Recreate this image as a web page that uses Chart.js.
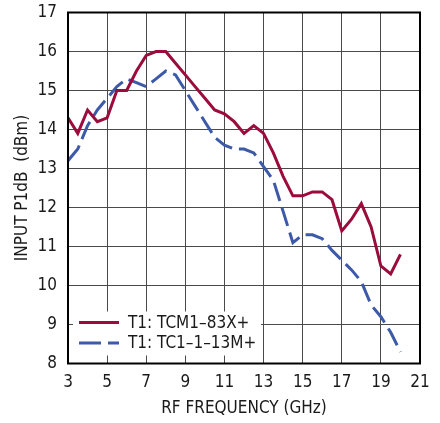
<!DOCTYPE html>
<html>
<head>
<meta charset="utf-8">
<script src="https://cdn.jsdelivr.net/npm/chart.js@4"></script>
<style>
html,body{margin:0;padding:0;background:#fff;}
#wrap{width:440px;height:423px;position:relative;}
</style>
</head>
<body>
<div id="wrap"><canvas id="c" width="440" height="423"></canvas></div>
<script>
const frequencies = [3,3.5,4,4.5,5,5.5,6,6.5,7,7.5,8,8.5,9,9.5,10,10.5,11,11.5,12,12.5,13,13.5,14,14.5,15,15.5,16,16.5,17,17.5,18,18.5,19,19.5,20];
const tcm183x = [14.3,13.9,14.5,14.2,14.3,15.0,15.0,15.5,15.9,16.0,16.0,15.7,15.4,15.1,14.8,14.5,14.4,14.2,13.9,14.1,13.9,13.4,12.8,12.3,12.3,12.4,12.4,12.2,11.4,11.7,12.1,11.5,10.5,10.3,10.8];
const tc1113m = [13.2,13.5,14.1,14.5,14.8,15.1,15.3,15.2,15.1,15.3,15.5,15.4,15.0,14.6,14.2,13.8,13.6,13.5,13.5,13.4,13.05,12.7,11.9,11.1,11.3,11.3,11.2,10.9,10.65,10.4,10.1,9.5,9.2,8.8,8.3];
const seriesNames = ['T1: TCM1\u201383X+', 'T1: TC1\u20131\u201313M+'];
const xTicks = [3,5,7,9,11,13,15,17,19,21];
const yTicks = [8,9,10,11,12,13,14,15,16,17];

const RED = '#9b0c3d';
const BLUE = '#3d5aa9';
const FONT = '"Liberation Sans Narrow", "DejaVu Sans Condensed", "Liberation Sans", sans-serif';

const legendPlugin = {
  id: 'boxLegend',
  beforeDatasetsDraw(chart) {
    const ctx = chart.ctx;
    const a = chart.chartArea;
    ctx.save();
    ctx.fillStyle = '#fff';
    ctx.fillRect(a.left + 5, a.bottom - 52, 188, 44);
    const items = [
      {label: seriesNames[0], color: RED, dash: []},
      {label: seriesNames[1], color: BLUE, dash: [22, 7]}
    ];
    items.forEach((it, i) => {
      const y = a.bottom - 41 + i * 20.5;
      ctx.strokeStyle = it.color;
      ctx.lineWidth = 3;
      ctx.setLineDash(it.dash);
      ctx.beginPath();
      ctx.moveTo(a.left + 11, y);
      ctx.lineTo(a.left + 51, y);
      ctx.stroke();
      ctx.setLineDash([]);
      ctx.fillStyle = '#1a1a1a';
      ctx.font = '17px ' + FONT;
      ctx.textBaseline = 'middle';
      ctx.textAlign = 'left';
      ctx.fillText(it.label, a.left + 60, y + 1);
    });
    ctx.restore();
  },
  afterDraw(chart) {
    const ctx = chart.ctx;
    const a = chart.chartArea;
    ctx.save();
    ctx.strokeStyle = '#000';
    ctx.lineWidth = 2;
    ctx.strokeRect(a.left, a.top, a.right - a.left, a.bottom - a.top);
    ctx.restore();
  }
};

new Chart(document.getElementById('c'), {
  type: 'line',
  data: {
    labels: frequencies,
    datasets: [
      {label: seriesNames[0], data: frequencies.map((f, i) => ({x: f, y: tcm183x[i]})), borderColor: RED, borderWidth: 3, pointRadius: 0, tension: 0, fill: false},
      {label: seriesNames[1], data: frequencies.map((f, i) => ({x: f, y: tc1113m[i]})), borderColor: BLUE, borderWidth: 3, borderDash: [19, 7], pointRadius: 0, tension: 0, fill: false}
    ]
  },
  options: {
    responsive: false,
    animation: false,
    devicePixelRatio: 1,
    layout: {padding: {top: 12.5, right: 20, left: 0, bottom: 0}},
    plugins: {legend: {display: false}, tooltip: {enabled: false}},
    scales: {
      x: {
        type: 'linear', min: 3, max: 21,
        afterBuildTicks: s => { s.ticks = xTicks.map(v => ({value: v})); },
        afterFit: s => { s.height = 59.5; s.paddingLeft = 0; s.paddingRight = 0; },
        grid: {color: '#4a4a4a', lineWidth: 1, drawTicks: false},
        border: {display: false},
        ticks: {color: '#1a1a1a', font: {family: FONT, size: 17}, padding: 9, maxRotation: 0, autoSkip: false},
        title: {display: true, text: 'RF FREQUENCY (GHz)', color: '#1a1a1a', font: {family: FONT, size: 17}, padding: {top: 4, bottom: 4}}
      },
      y: {
        type: 'linear', min: 8, max: 17,
        afterBuildTicks: s => { s.ticks = yTicks.map(v => ({value: v})); },
        afterFit: s => { s.width = 68; s.paddingTop = 0; s.paddingBottom = 0; },
        grid: {color: '#4a4a4a', lineWidth: 1, drawTicks: false},
        border: {display: false},
        ticks: {color: '#1a1a1a', font: {family: FONT, size: 17}, padding: 11, autoSkip: false},
        title: {display: true, text: 'INPUT P1dB  (dBm)', color: '#1a1a1a', font: {family: FONT, size: 17}, padding: {top: 12, bottom: 4}}
      }
    }
  },
  plugins: [legendPlugin]
});
</script>
</body>
</html>
